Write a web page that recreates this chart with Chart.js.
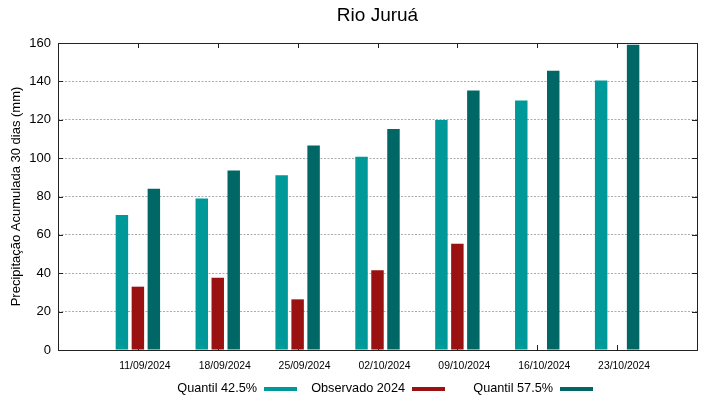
<!DOCTYPE html>
<html>
<head>
<meta charset="utf-8">
<script src="https://cdn.jsdelivr.net/npm/chart.js@4"></script>
<style>
  body { margin: 0; background: #fff; }
  canvas { display: block; }
</style>
</head>
<body>
<canvas id="chuvaChart" width="719" height="399"></canvas>
<script>
// dados (mm acumulados em 30 dias)
const datas = ['', '11/09/2024', '18/09/2024', '25/09/2024', '02/10/2024', '09/10/2024', '16/10/2024', '23/10/2024', ''];
const quantil425 = [null, 70.3, 79.0, 91.1, 100.7, 119.9, 130.0, 140.4, null];
const observado2024 = [null, 33.0, 37.7, 26.4, 41.5, 55.4, null, null, null];
const quantil575 = [null, 84.0, 93.5, 106.6, 115.2, 135.2, 145.6, 159.1, null];
const yMin = 0;
const yMax = 160;
const yStep = 20;

const fonte = "'Liberation Sans', Arial, sans-serif";

// ticks para dentro + moldura, estilo gnuplot
const moldura = {
  id: 'moldura',
  beforeDatasetsDraw(chart) {
    const { ctx, chartArea: a, scales } = chart;
    ctx.save();
    ctx.strokeStyle = '#222';
    ctx.lineWidth = 1;
    ctx.beginPath();
    scales.y.ticks.forEach((t, i) => {
      const y = Math.round(scales.y.getPixelForTick(i)) + 0.5;
      ctx.moveTo(a.left, y); ctx.lineTo(a.left + 5, y);
      ctx.moveTo(a.right, y); ctx.lineTo(a.right - 5, y);
    });
    datas.forEach((d, i) => {
      if (!d) return;
      const x = Math.round(scales.x.getPixelForTick(i)) + 0.5;
      ctx.moveTo(x, a.top); ctx.lineTo(x, a.top + 5);
      ctx.moveTo(x, a.bottom); ctx.lineTo(x, a.bottom - 5);
    });
    ctx.stroke();
    ctx.restore();
  },
  afterDatasetsDraw(chart) {
    const { ctx, chartArea: a } = chart;
    ctx.save();
    ctx.strokeStyle = '#222';
    ctx.lineWidth = 1;
    ctx.strokeRect(Math.round(a.left) + 0.5, Math.round(a.top) + 0.5,
      Math.round(a.right - a.left), Math.round(a.bottom - a.top));
    ctx.restore();
  }
};

// legenda: texto à direita alinhado, amostra depois do texto
const legendaGnuplot = {
  id: 'legendaGnuplot',
  afterDraw(chart) {
    const { ctx, chartArea: a } = chart;
    const colW = 148;
    let colRight = a.left + 91 + colW;
    ctx.save();
    ctx.font = '12.7px ' + fonte;
    ctx.textAlign = 'right';
    ctx.textBaseline = 'alphabetic';
    chart.data.datasets.forEach(ds => {
      const sx = colRight - 33;
      ctx.fillStyle = '#000';
      ctx.fillText(ds.label, sx - 7, 391.5);
      ctx.fillStyle = ds.backgroundColor;
      ctx.fillRect(sx, 387, 33, 4);
      colRight += colW;
    });
    ctx.restore();
  }
};

const ctx = document.getElementById('chuvaChart').getContext('2d');
const chuvaChart = new Chart(ctx, {
  type: 'bar',
  data: {
    labels: datas,
    datasets: [
      { label: 'Quantil 42.5%', data: quantil425, backgroundColor: '#009999' },
      { label: 'Observado 2024', data: observado2024, backgroundColor: '#991111' },
      { label: 'Quantil 57.5%', data: quantil575, backgroundColor: '#006666' }
    ]
  },
  options: {
    responsive: false,
    animation: false,
    devicePixelRatio: 1,
    layout: { padding: { left: 0, right: 22, top: 0, bottom: 0 } },
    datasets: {
      bar: { barPercentage: 0.78, categoryPercentage: 0.6, borderWidth: 0 }
    },
    scales: {
      x: {
        offset: false,
        grid: { display: false, drawTicks: false },
        border: { display: false },
        ticks: {
          autoSkip: false,
          maxRotation: 0,
          labelOffset: 7,
          padding: 10,
          color: '#000',
          font: { family: fonte, size: 10.4 }
        },
        afterFit: (scale) => { scale.height = 49; }
      },
      y: {
        min: yMin,
        max: yMax,
        ticks: {
          stepSize: yStep,
          padding: 7,
          color: '#000',
          font: { family: fonte, size: 13 }
        },
        grid: {
          drawTicks: false,
          color: (c) => (c.tick && (c.tick.value === yMin || c.tick.value === yMax)) ? 'rgba(0,0,0,0)' : '#ababab',
          lineWidth: 1
        },
        border: { display: false, dash: [2, 1.5] },
        title: {
          display: true,
          text: 'Precipitação Acumulada 30 dias (mm)',
          color: '#000',
          font: { family: fonte, size: 13 },
          padding: { top: 9, bottom: 0 }
        },
        afterFit: (scale) => { scale.width = 58; }
      }
    },
    plugins: {
      legend: { display: false },
      tooltip: { enabled: false },
      title: {
        display: true,
        text: 'Rio Juruá',
        fullSize: false,
        color: '#000',
        font: { family: fonte, size: 19, weight: 'normal' },
        padding: { top: 4, bottom: 16.2 }
      }
    }
  },
  plugins: [moldura, legendaGnuplot]
});
</script>
</body>
</html>
